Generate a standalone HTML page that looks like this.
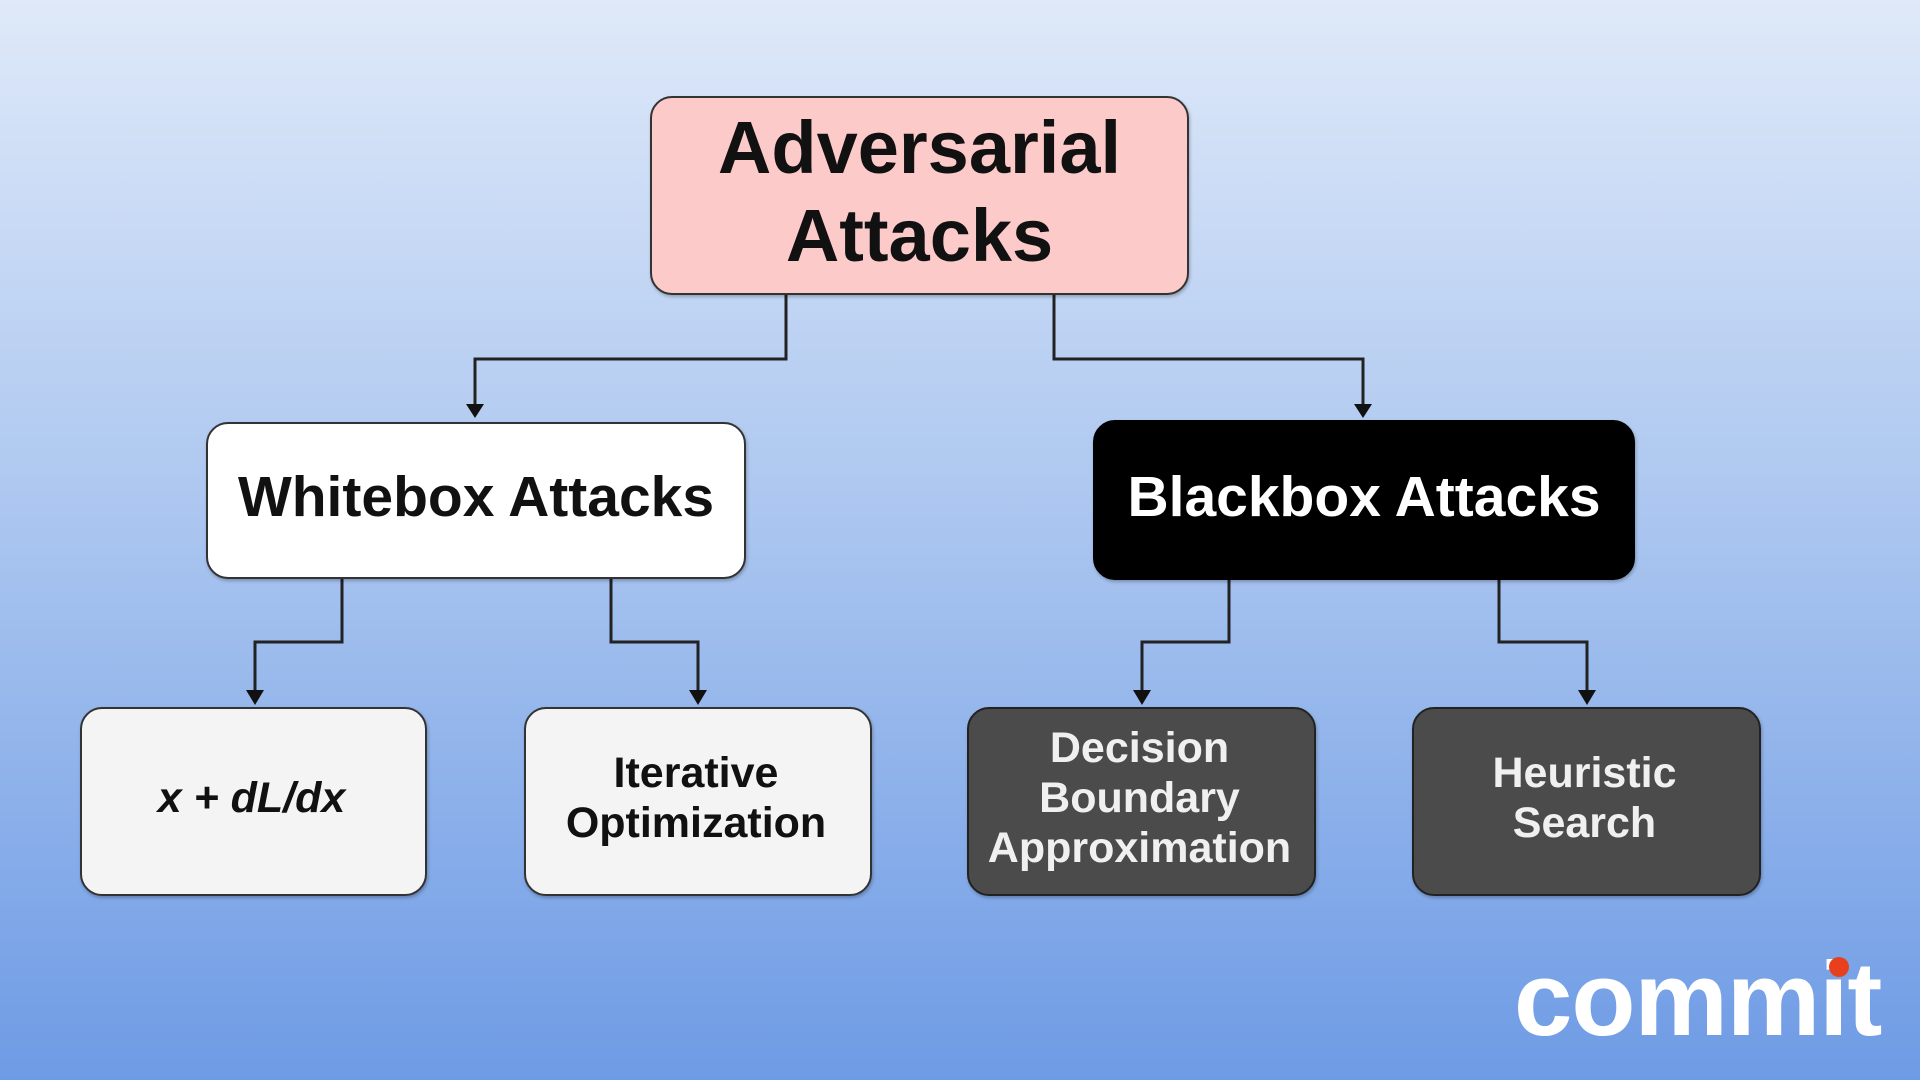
<!DOCTYPE html>
<html><head><style>
body{margin:0;width:1920px;height:1080px;overflow:hidden;background:linear-gradient(#dfe9f9,#aec8f0 45%,#6e9be5);font-family:"Liberation Sans",sans-serif;position:relative}
.b{position:absolute;box-sizing:border-box;border:2px solid #333;border-radius:22px;display:flex;align-items:center;justify-content:center;text-align:center;font-weight:bold;box-shadow:1px 2px 3px rgba(0,0,0,.25);padding-bottom:7px}
.l{font-size:43px;line-height:50px;padding-right:4px}
.lt{background:#f4f4f4;color:#111}
.dk{background:#4b4b4b;color:#f0f0f0;border-color:#222}
</style></head><body>
<svg width="1920" height="1080" style="position:absolute;left:0;top:0">
<g fill="none" stroke="#222" stroke-width="3">
<polyline points="786,295 786,359 475,359 475,410"/>
<polyline points="1054,295 1054,359 1363,359 1363,410"/>
<polyline points="342,579 342,642 255,642 255,697"/>
<polyline points="611,579 611,642 698,642 698,697"/>
<polyline points="1229,580 1229,642 1142,642 1142,697"/>
<polyline points="1499,580 1499,642 1587,642 1587,697"/>
</g>
<g fill="#111">
<polygon points="466,404 484,404 475,418"/>
<polygon points="1354,404 1372,404 1363,418"/>
<polygon points="246,690 264,690 255,705"/>
<polygon points="689,690 707,690 698,705"/>
<polygon points="1133,690 1151,690 1142,705"/>
<polygon points="1578,690 1596,690 1587,705"/>
</g>
</svg>
<div class="b" style="left:650px;top:96px;width:539px;height:199px;background:#fdcaca;font-size:74px;line-height:88px;color:#111">Adversarial<br>Attacks</div>
<div class="b" style="left:206px;top:422px;width:540px;height:157px;background:#fff;font-size:57px;color:#111">Whitebox Attacks</div>
<div class="b" style="left:1093px;top:420px;width:542px;height:160px;background:#000;font-size:57px;color:#fff;border-color:#000">Blackbox Attacks</div>
<div class="b l lt" style="left:80px;top:707px;width:347px;height:189px;font-style:italic">x + dL/dx</div>
<div class="b l lt" style="left:524px;top:707px;width:348px;height:189px">Iterative<br>Optimization</div>
<div class="b l dk" style="left:967px;top:707px;width:349px;height:189px">Decision<br>Boundary<br>Approximation</div>
<div class="b l dk" style="left:1412px;top:707px;width:349px;height:189px">Heuristic<br>Search</div>
<div style="position:absolute;left:1514px;top:940px;font-size:105px;font-weight:bold;color:#fff;letter-spacing:-1px;line-height:120px">commit</div>
<div style="position:absolute;left:1829px;top:957px;width:20px;height:20px;border-radius:50%;background:#e8401c"></div>
</body></html>
